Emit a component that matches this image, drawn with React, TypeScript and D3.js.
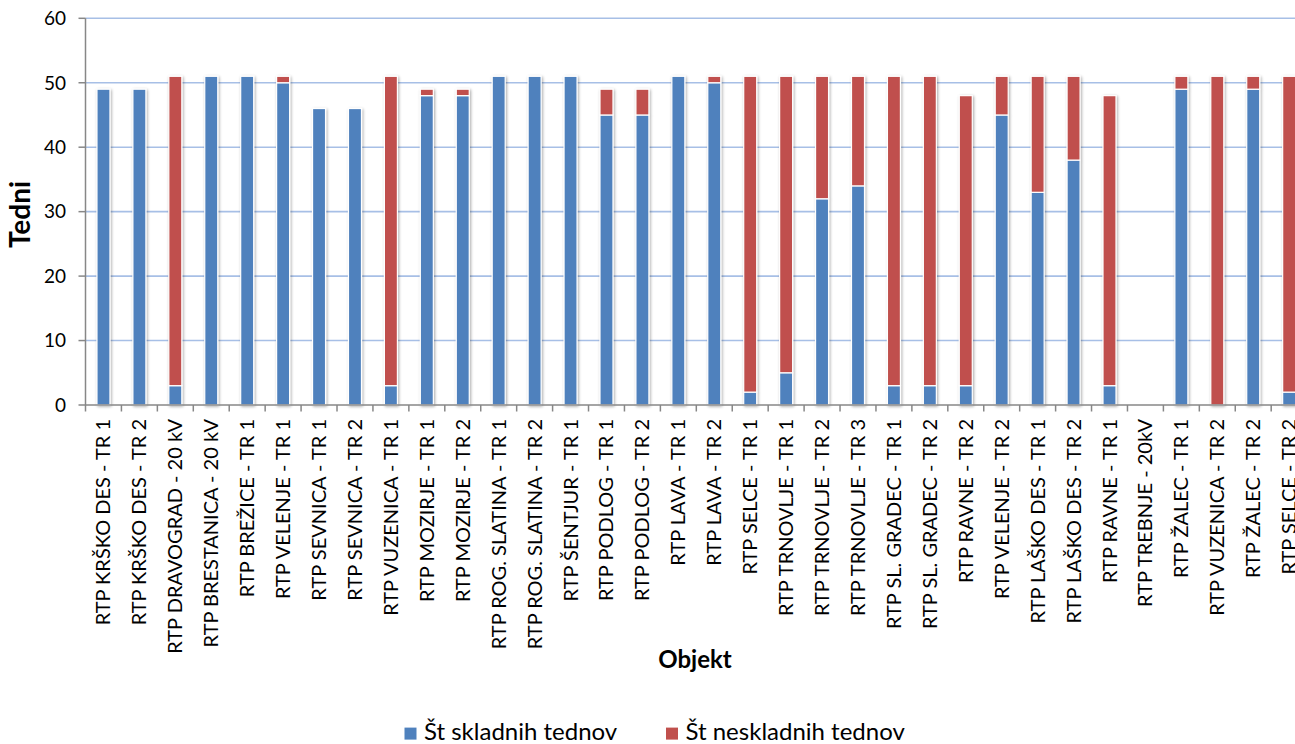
import React, { useEffect } from "react";
import * as d3 from "d3";

const categories: string[] = [
  "RTP KRŠKO DES - TR 1",
  "RTP KRŠKO DES - TR 2",
  "RTP DRAVOGRAD - 20 kV",
  "RTP BRESTANICA - 20 kV",
  "RTP BREŽICE - TR 1",
  "RTP VELENJE - TR 1",
  "RTP SEVNICA - TR 1",
  "RTP SEVNICA - TR 2",
  "RTP VUZENICA - TR 1",
  "RTP MOZIRJE - TR 1",
  "RTP MOZIRJE - TR 2",
  "RTP ROG. SLATINA - TR 1",
  "RTP ROG. SLATINA - TR 2",
  "RTP ŠENTJUR - TR 1",
  "RTP PODLOG - TR 1",
  "RTP PODLOG - TR 2",
  "RTP LAVA - TR 1",
  "RTP LAVA - TR 2",
  "RTP SELCE - TR 1",
  "RTP TRNOVLJE - TR 1",
  "RTP TRNOVLJE - TR 2",
  "RTP TRNOVLJE - TR 3",
  "RTP SL. GRADEC - TR 1",
  "RTP SL. GRADEC - TR 2",
  "RTP RAVNE - TR 2",
  "RTP VELENJE - TR 2",
  "RTP LAŠKO DES - TR 1",
  "RTP LAŠKO DES - TR 2",
  "RTP RAVNE - TR 1",
  "RTP TREBNJE - 20kV",
  "RTP ŽALEC - TR 1",
  "RTP VUZENICA - TR 2",
  "RTP ŽALEC - TR 2",
  "RTP SELCE - TR 2",
];

const skladni: number[] = [
  49, 49, 3, 51, 51, 50, 46, 46, 3, 48, 48, 51, 51, 51, 45, 45, 51, 50, 2, 5,
  32, 34, 3, 3, 3, 45, 33, 38, 3, 0, 49, 0, 49, 2,
];

const neskladni: number[] = [
  0, 0, 48, 0, 0, 1, 0, 0, 48, 1, 1, 0, 0, 0, 4, 4, 0, 1, 49, 46,
  19, 17, 48, 48, 45, 6, 18, 13, 45, 0, 2, 51, 2, 49,
];

const yTicks: number[] = [0, 10, 20, 30, 40, 50, 60];

const seriesNames: string[] = ["Št skladnih tednov", "Št neskladnih tednov"];
const seriesColors: string[] = ["#4f81bd", "#c0504d"];

const W = 1295;
const H = 744;
const left = 85.5;
const step = 35.93;
const right = left + step * categories.length;
const top = 18.3;
const bottom = 405;
const barW = 13;
const FONT = "Lato, 'Open Sans', sans-serif";

export default function App() {
  useEffect(() => {
    document.body.style.margin = "0";
  }, []);

  const x = d3.scaleBand<string>().domain(categories).range([left, right]).paddingInner(0).paddingOuter(0);
  const y = d3.scaleLinear().domain([0, 60]).range([bottom, top]);

  const stacked = categories.map((c, i) => {
    const b = skladni[i];
    const r = neskladni[i];
    return { c, segs: [
      { y0: 0, y1: b, color: seriesColors[0] },
      { y0: b, y1: b + r, color: seriesColors[1] },
    ] };
  });

  const axisColor = "#878787";
  const gridColor = "#a7bfe6";

  return (
    <svg width={W} height={H} style={{ display: "block", background: "#fff" }} fontFamily={FONT}>
      <defs>
        <filter id="sh" x="-50%" y="-10%" width="200%" height="120%">
          <feGaussianBlur in="SourceAlpha" stdDeviation="1.6" />
          <feOffset dx="0.5" dy="0.5" result="b" />
          <feComponentTransfer>
            <feFuncA type="linear" slope="0.35" />
          </feComponentTransfer>
          <feMerge>
            <feMergeNode />
            <feMergeNode in="SourceGraphic" />
          </feMerge>
        </filter>
      </defs>
      {/* gridlines */}
      {yTicks.filter((t) => t > 0).map((t) => (
        <line key={"g" + t} x1={left} x2={right} y1={y(t)} y2={y(t)} stroke={gridColor} strokeWidth={1.6} />
      ))}
      {/* bars */}
      {stacked.map((d) => {
        const cx = (x(d.c) as number) + x.bandwidth() / 2;
        return (
          <g key={d.c} filter="url(#sh)">
            {d.segs.filter((s) => s.y1 - s.y0 > 0).map((s, k) => (
              <rect
                key={k}
                x={cx - barW / 2}
                y={y(s.y1)}
                width={barW}
                height={y(s.y0) - y(s.y1)}
                fill={s.color}
                stroke="#ffffff"
                strokeWidth={1.2}
              />
            ))}
          </g>
        );
      })}
      {/* y axis */}
      <line x1={left} x2={left} y1={top} y2={bottom} stroke={axisColor} strokeWidth={1.5} />
      {yTicks.map((t) => (
        <g key={"yt" + t}>
          <line x1={left - 7} x2={left} y1={y(t)} y2={y(t)} stroke={axisColor} strokeWidth={1.5} />
          <text x={66} y={y(t)} dy="0.36em" textAnchor="end" fontSize={19} fill="#000">
            {t}
          </text>
        </g>
      ))}
      {/* x axis */}
      <line x1={left} x2={right} y1={bottom} y2={bottom} stroke={axisColor} strokeWidth={1.5} />
      {categories.map((c, i) => (
        <line key={"xt" + i} x1={x(c) as number} x2={x(c) as number} y1={bottom} y2={bottom + 6.5} stroke={axisColor} strokeWidth={1.5} />
      ))}
      {categories.map((c) => {
        const cx = (x(c) as number) + x.bandwidth() / 2;
        return (
          <text
            key={"xl" + c}
            transform={`translate(${cx + 7},${419}) rotate(-90)`}
            textAnchor="end"
            fontSize={20}
            fill="#000"
          >
            {c}
          </text>
        );
      })}
      {/* axis titles */}
      <text transform={`translate(29.5,214.5) rotate(-90)`} textAnchor="middle" fontSize={28} fontWeight="bold" fill="#000">
        Tedni
      </text>
      <text x={695} y={668} textAnchor="middle" fontSize={24} fontWeight="bold" fill="#000">
        Objekt
      </text>
      {/* legend */}
      {seriesNames.map((n, i) => {
        const lx = i === 0 ? 404.5 : 666;
        return (
          <g key={n}>
            <rect x={lx} y={727.6} width={12} height={12} fill={seriesColors[i]} />
            <text x={lx + 19.5} y={740} fontSize={24} fill="#000">
              {n}
            </text>
          </g>
        );
      })}
    </svg>
  );
}
